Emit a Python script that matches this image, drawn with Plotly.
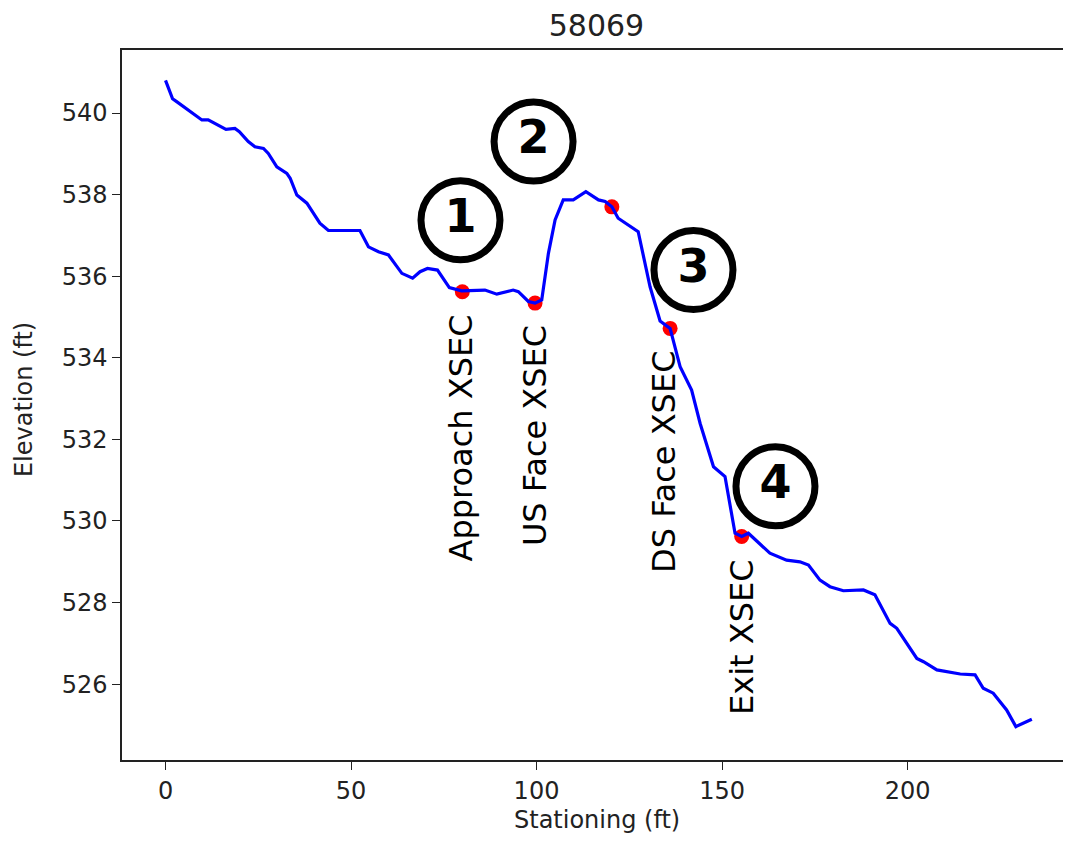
import plotly.graph_objects as go

# ---- data ----
station = [0, 1.9, 3, 9.8, 11.5, 13.8, 16.3, 18.7, 19.9, 22.3, 24.1, 26.4, 27.7, 30, 32.7, 33.6,
           35.4, 38.1, 41.6, 43.9, 52.4, 54.7, 57.4, 60.1, 61.4, 63.7, 66.6, 68.6, 70.6, 73.3,
           76.5, 79.8, 86.1, 89.3, 93.7, 95.1, 97.8, 99.6, 101.4, 103.2, 105, 107.2, 109.9,
           113.3, 116.7, 118.5, 120.3, 122, 127.4, 130.6, 133.3, 136, 138.7, 141.8, 144.1,
           147.7, 150.8, 153.5, 155.3, 157.1, 162.9, 167.4, 171, 173.3, 176.4, 179.1, 182.7,
           188.1, 191.2, 195.3, 197.1, 202.5, 204.3, 207.9, 214.2, 218.2, 220.4, 223.1, 226.7,
           229.2, 233.5]
elevation = [540.8, 540.35, 540.28, 539.83, 539.83, 539.71, 539.6, 539.62, 539.54, 539.3, 539.17,
             539.13, 539.01, 538.68, 538.52, 538.4, 537.99, 537.79, 537.3, 537.12, 537.12, 536.72,
             536.6, 536.52, 536.36, 536.07, 535.95, 536.11, 536.19, 536.15, 535.72, 535.64,
             535.66, 535.56, 535.66, 535.62, 535.38, 535.34, 535.42, 536.56, 537.38, 537.87,
             537.87, 538.07, 537.87, 537.83, 537.7, 537.42, 537.09, 535.74, 534.9, 534.72,
             533.78, 533.21, 532.39, 531.33, 531.09, 529.7, 529.62, 529.7, 529.21, 529.04,
             529.0, 528.92, 528.55, 528.39, 528.29, 528.31, 528.19, 527.49, 527.37, 526.63,
             526.55, 526.35, 526.25, 526.23, 525.9, 525.78, 525.37, 524.96, 525.14]

dot_x = [80, 99.6, 120.3, 136, 155.3]
dot_y = [535.62, 535.34, 537.7, 534.72, 529.62]

label_names = ["Approach XSEC", "US Face XSEC", "DS Face XSEC", "Exit XSEC"]
label_x = [79.6, 99.6, 134.4, 155.4]
label_dot_y = [535.62, 535.34, 534.72, 529.62]

circle_text = ["1", "2", "3", "4"]
circle_x = [79.5, 99.2, 142.3, 164.4]
circle_y = [537.37, 539.30, 536.15, 530.85]

x_ticks = [0, 50, 100, 150, 200]
y_ticks = [526, 528, 530, 532, 534, 536, 538, 540]

# ---- figure ----
fig = go.Figure()
fig.add_trace(go.Scatter(x=dot_x, y=dot_y, mode="markers",
                         marker=dict(color="red", size=15, line=dict(width=0)),
                         hoverinfo="skip", showlegend=False))
fig.add_trace(go.Scatter(x=station, y=elevation, mode="lines",
                         line=dict(color="#0000ff", width=3.2),
                         showlegend=False))
fig.add_trace(go.Scatter(x=circle_x, y=circle_y, mode="markers+text",
                         text=circle_text, textposition="middle center",
                         textfont=dict(family="DejaVu Sans", size=46, color="black", weight="bold"),
                         marker=dict(symbol="circle-open", size=79,
                                     line=dict(color="black", width=7), color="black"),
                         showlegend=False, hoverinfo="skip"))

for name, lx, ly in zip(label_names, label_x, label_dot_y):
    fig.add_annotation(x=lx, y=ly - 0.5, text=name, textangle=-90,
                       xanchor="center", yanchor="top", showarrow=False,
                       font=dict(family="DejaVu Sans", size=32, color="black"))

font_main = "DejaVu Sans"
fig.update_layout(
    width=1055, height=827,
    margin=dict(l=114, r=0, t=42, b=75),
    paper_bgcolor="white", plot_bgcolor="white",
    title=dict(text="58069", x=0.5578, xanchor="center", y=0.9794, yanchor="middle",
               yref="container",
               font=dict(family=font_main, size=30, color="#222")),
    font=dict(family=font_main, color="#222"),
)
fig.update_xaxes(range=[-11.73, 241.9], tickvals=x_ticks, ticks="outside", ticklen=8,
                 tickwidth=1.3, tickcolor="#222", showgrid=False, zeroline=False,
                 showline=True, linecolor="#222", linewidth=1.5, mirror=True,
                 tickfont=dict(size=24, family=font_main, color="#222"))
fig.update_yaxes(range=[524.142, 541.544], tickvals=y_ticks, ticks="outside", ticklen=8,
                 tickwidth=1.3, tickcolor="#222", showgrid=False, zeroline=False,
                 showline=True, linecolor="#222", linewidth=1.5, mirror=False,
                 tickfont=dict(size=24, family=font_main, color="#222"))
fig.add_annotation(xref="paper", yref="paper", x=0.5048, y=-0.0845, text="Stationing (ft)",
                   showarrow=False, xanchor="center", yanchor="middle",
                   font=dict(family=font_main, size=24, color="#222"))
fig.add_annotation(xref="paper", yref="paper", x=-0.1041, y=0.507, text="Elevation (ft)",
                   textangle=-90, showarrow=False, xanchor="center", yanchor="middle",
                   font=dict(family=font_main, size=24, color="#222"))

fig.write_html("out.html")
